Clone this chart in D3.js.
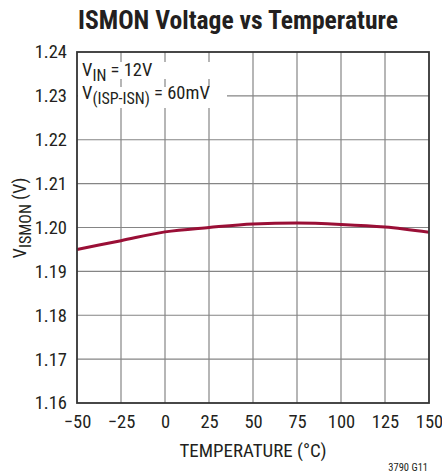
<!DOCTYPE html>
<html><head><meta charset="utf-8">
<script src="https://cdn.jsdelivr.net/npm/d3@7"></script>
<style>body{margin:0;background:#fff}svg{display:block}text{font-family:"Liberation Sans Narrow","Roboto Condensed",Arial,sans-serif;fill:#231f20}</style>
</head><body><svg id="c" width="442" height="475"></svg>
<script>
const temps = [-50, -25, 0, 25, 50, 75, 100, 125, 150];
const vismon = [1.195, 1.197, 1.199, 1.2, 1.2008, 1.201, 1.2007, 1.2001, 1.1989];
const xTicks = [-50, -25, 0, 25, 50, 75, 100, 125, 150];
const yTicks = [1.16, 1.17, 1.18, 1.19, 1.20, 1.21, 1.22, 1.23, 1.24];

const svg = d3.select("#c");
const L = 77, R = 429, T = 52, B = 403;
const x = d3.scaleLinear().domain([-50, 150]).range([L, R]);
const y = d3.scaleLinear().domain([1.16, 1.24]).range([B, T]);

// grid
const g = svg.append("g");
g.selectAll("line.v").data(xTicks.slice(1, -1)).join("line")
  .attr("x1", d => x(d)).attr("x2", d => x(d)).attr("y1", T).attr("y2", B)
  .attr("stroke", "#858585").attr("stroke-width", 1.2);
g.selectAll("line.h").data(yTicks.slice(1, -1)).join("line")
  .attr("x1", L).attr("x2", R).attr("y1", d => y(d)).attr("y2", d => y(d))
  .attr("stroke", "#858585").attr("stroke-width", 1.2);

// annotation backgrounds
svg.append("rect").attr("x", L + 1).attr("y", 62).attr("width", 148).attr("height", 17).attr("fill", "#fff");
svg.append("rect").attr("x", L + 1).attr("y", 87).attr("width", 149).attr("height", 21).attr("fill", "#fff");

// curve
svg.append("path").datum(temps.map((t, i) => [t, vismon[i]]))
  .attr("d", d3.line().x(d => x(d[0])).y(d => y(d[1])).curve(d3.curveMonotoneX))
  .attr("fill", "none").attr("stroke", "#9a0f36").attr("stroke-width", 3);

// frame
svg.append("rect").attr("x", L).attr("y", T).attr("width", R - L).attr("height", B - T)
  .attr("fill", "none").attr("stroke", "#333").attr("stroke-width", 1.8);

// axes labels
const xa = svg.append("g").attr("transform", `translate(0,${B})`)
  .call(d3.axisBottom(x).tickValues(xTicks).tickSize(0).tickPadding(0)
    .tickFormat(d => d < 0 ? "\u2212" + Math.abs(d) : d));
xa.select(".domain").remove();
xa.selectAll("text").attr("y", 0).attr("dy", null).attr("transform", "translate(0,25)")
  .style("font-size", "18.5px").attr("fill", "#231f20");

const ya = svg.append("g").attr("transform", `translate(${L},0)`)
  .call(d3.axisLeft(y).tickValues(yTicks).tickSize(0).tickPadding(10).tickFormat(d3.format(".2f")));
ya.select(".domain").remove();
ya.selectAll("text").style("font-size", "18.5px").attr("fill", "#231f20");

svg.append("text").attr("x", 238).attr("y", 29).attr("text-anchor", "middle")
  .attr("textLength", 320).attr("lengthAdjust", "spacingAndGlyphs")
  .style("font-size", "25px").style("font-weight", "bold").text("ISMON Voltage vs Temperature");

svg.append("text").attr("x", (L + R) / 2).attr("y", 457).attr("text-anchor", "middle")
  .attr("textLength", 147).attr("lengthAdjust", "spacingAndGlyphs")
  .style("font-size", "18.5px").text("TEMPERATURE (°C)");

const yl = svg.append("text").attr("transform", `translate(26,218) rotate(-90)`)
  .attr("text-anchor", "middle").style("font-size", "18.5px");
yl.append("tspan").text("V");
yl.append("tspan").attr("dy", 5).style("font-size", "16px").text("ISMON");
yl.append("tspan").attr("dy", -5).text(" (V)");

const a1 = svg.append("text").attr("x", 82).attr("y", 76).style("font-size", "18.5px");
a1.append("tspan").text("V");
a1.append("tspan").attr("dy", 5).style("font-size", "16px").text("IN");
a1.append("tspan").attr("dy", -5).text(" = 12V");
const a2 = svg.append("text").attr("x", 82).attr("y", 99).style("font-size", "18.5px");
a2.append("tspan").text("V");
a2.append("tspan").attr("dy", 5).style("font-size", "16px").text("(ISP-ISN)");
a2.append("tspan").attr("dy", -5).text(" = 60mV");

svg.append("text").attr("x", 428).attr("y", 471).attr("text-anchor", "end")
  .style("font-size", "10.5px").text("3790 G11");
</script></body></html>
